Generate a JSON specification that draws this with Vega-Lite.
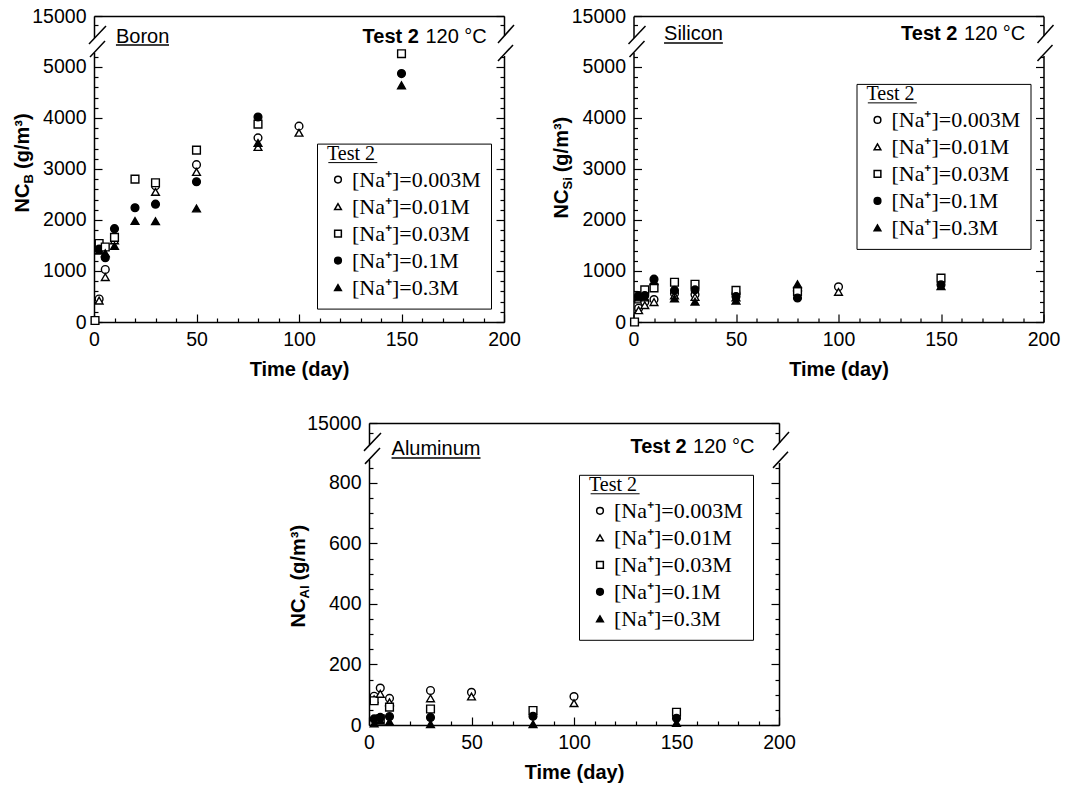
{
  "$schema": "https://vega.github.io/schema/vega-lite/v6.json",
  "padding": {"left": 12, "top": 6, "right": 5, "bottom": 5},
  "background": "white",
  "datasets": {
    "boron": [
      {"t": 0.5, "v": 30, "s": "[Na⁺]=0.03M"},
      {"t": 2.5, "v": 450, "s": "[Na⁺]=0.003M"},
      {"t": 2.5, "v": 420, "s": "[Na⁺]=0.01M"},
      {"t": 2.5, "v": 1540, "s": "[Na⁺]=0.03M"},
      {"t": 2.5, "v": 1430, "s": "[Na⁺]=0.1M"},
      {"t": 2.5, "v": 1400, "s": "[Na⁺]=0.3M"},
      {"t": 5.5, "v": 1030, "s": "[Na⁺]=0.003M"},
      {"t": 5.5, "v": 880, "s": "[Na⁺]=0.01M"},
      {"t": 5.5, "v": 1470, "s": "[Na⁺]=0.03M"},
      {"t": 5.5, "v": 1260, "s": "[Na⁺]=0.1M"},
      {"t": 5.5, "v": 1350, "s": "[Na⁺]=0.3M"},
      {"t": 10, "v": 1650, "s": "[Na⁺]=0.003M"},
      {"t": 10, "v": 1600, "s": "[Na⁺]=0.01M"},
      {"t": 10, "v": 1660, "s": "[Na⁺]=0.03M"},
      {"t": 10, "v": 1830, "s": "[Na⁺]=0.1M"},
      {"t": 10, "v": 1490, "s": "[Na⁺]=0.3M"},
      {"t": 20, "v": 2800, "s": "[Na⁺]=0.03M"},
      {"t": 20, "v": 2240, "s": "[Na⁺]=0.1M"},
      {"t": 20, "v": 1980, "s": "[Na⁺]=0.3M"},
      {"t": 30, "v": 2670, "s": "[Na⁺]=0.003M"},
      {"t": 30, "v": 2550, "s": "[Na⁺]=0.01M"},
      {"t": 30, "v": 2730, "s": "[Na⁺]=0.03M"},
      {"t": 30, "v": 2310, "s": "[Na⁺]=0.1M"},
      {"t": 30, "v": 1975, "s": "[Na⁺]=0.3M"},
      {"t": 50, "v": 3085, "s": "[Na⁺]=0.003M"},
      {"t": 50, "v": 2940, "s": "[Na⁺]=0.01M"},
      {"t": 50, "v": 3370, "s": "[Na⁺]=0.03M"},
      {"t": 50, "v": 2750, "s": "[Na⁺]=0.1M"},
      {"t": 50, "v": 2225, "s": "[Na⁺]=0.3M"},
      {"t": 80, "v": 3610, "s": "[Na⁺]=0.003M"},
      {"t": 80, "v": 3430, "s": "[Na⁺]=0.01M"},
      {"t": 80, "v": 3880, "s": "[Na⁺]=0.03M"},
      {"t": 80, "v": 4020, "s": "[Na⁺]=0.1M"},
      {"t": 80, "v": 3510, "s": "[Na⁺]=0.3M"},
      {"t": 100, "v": 3840, "s": "[Na⁺]=0.003M"},
      {"t": 100, "v": 3710, "s": "[Na⁺]=0.01M"},
      {"t": 150, "v": 5260, "s": "[Na⁺]=0.03M"},
      {"t": 150, "v": 4870, "s": "[Na⁺]=0.1M"},
      {"t": 150, "v": 4640, "s": "[Na⁺]=0.3M"}
    ],
    "silicon": [
      {"t": 0.5, "v": 0, "s": "[Na⁺]=0.03M"},
      {"t": 2.5, "v": 270, "s": "[Na⁺]=0.003M"},
      {"t": 2.5, "v": 230, "s": "[Na⁺]=0.01M"},
      {"t": 2.5, "v": 450, "s": "[Na⁺]=0.03M"},
      {"t": 2.5, "v": 520, "s": "[Na⁺]=0.1M"},
      {"t": 2.5, "v": 480, "s": "[Na⁺]=0.3M"},
      {"t": 5.5, "v": 390, "s": "[Na⁺]=0.003M"},
      {"t": 5.5, "v": 330, "s": "[Na⁺]=0.01M"},
      {"t": 5.5, "v": 630, "s": "[Na⁺]=0.03M"},
      {"t": 5.5, "v": 520, "s": "[Na⁺]=0.1M"},
      {"t": 5.5, "v": 480, "s": "[Na⁺]=0.3M"},
      {"t": 10, "v": 440, "s": "[Na⁺]=0.003M"},
      {"t": 10, "v": 390, "s": "[Na⁺]=0.01M"},
      {"t": 10, "v": 670, "s": "[Na⁺]=0.03M"},
      {"t": 10, "v": 840, "s": "[Na⁺]=0.1M"},
      {"t": 10, "v": 800, "s": "[Na⁺]=0.3M"},
      {"t": 20, "v": 560, "s": "[Na⁺]=0.003M"},
      {"t": 20, "v": 520, "s": "[Na⁺]=0.01M"},
      {"t": 20, "v": 780, "s": "[Na⁺]=0.03M"},
      {"t": 20, "v": 620, "s": "[Na⁺]=0.1M"},
      {"t": 20, "v": 460, "s": "[Na⁺]=0.3M"},
      {"t": 30, "v": 540, "s": "[Na⁺]=0.003M"},
      {"t": 30, "v": 490, "s": "[Na⁺]=0.01M"},
      {"t": 30, "v": 740, "s": "[Na⁺]=0.03M"},
      {"t": 30, "v": 630, "s": "[Na⁺]=0.1M"},
      {"t": 30, "v": 400, "s": "[Na⁺]=0.3M"},
      {"t": 50, "v": 560, "s": "[Na⁺]=0.003M"},
      {"t": 50, "v": 480, "s": "[Na⁺]=0.01M"},
      {"t": 50, "v": 620, "s": "[Na⁺]=0.03M"},
      {"t": 50, "v": 500, "s": "[Na⁺]=0.1M"},
      {"t": 50, "v": 420, "s": "[Na⁺]=0.3M"},
      {"t": 80, "v": 560, "s": "[Na⁺]=0.003M"},
      {"t": 80, "v": 680, "s": "[Na⁺]=0.01M"},
      {"t": 80, "v": 600, "s": "[Na⁺]=0.03M"},
      {"t": 80, "v": 470, "s": "[Na⁺]=0.1M"},
      {"t": 80, "v": 740, "s": "[Na⁺]=0.3M"},
      {"t": 100, "v": 690, "s": "[Na⁺]=0.003M"},
      {"t": 100, "v": 590, "s": "[Na⁺]=0.01M"},
      {"t": 150, "v": 860, "s": "[Na⁺]=0.03M"},
      {"t": 150, "v": 730, "s": "[Na⁺]=0.1M"},
      {"t": 150, "v": 700, "s": "[Na⁺]=0.3M"}
    ],
    "aluminum": [
      {"t": 2.5, "v": 95, "s": "[Na⁺]=0.003M"},
      {"t": 2.5, "v": 85, "s": "[Na⁺]=0.01M"},
      {"t": 2.5, "v": 80, "s": "[Na⁺]=0.03M"},
      {"t": 2.5, "v": 20, "s": "[Na⁺]=0.1M"},
      {"t": 2.5, "v": 5, "s": "[Na⁺]=0.3M"},
      {"t": 5.5, "v": 122, "s": "[Na⁺]=0.003M"},
      {"t": 5.5, "v": 103, "s": "[Na⁺]=0.01M"},
      {"t": 5.5, "v": 20, "s": "[Na⁺]=0.03M"},
      {"t": 5.5, "v": 25, "s": "[Na⁺]=0.1M"},
      {"t": 5.5, "v": 14, "s": "[Na⁺]=0.3M"},
      {"t": 10, "v": 88, "s": "[Na⁺]=0.003M"},
      {"t": 10, "v": 75, "s": "[Na⁺]=0.01M"},
      {"t": 10, "v": 59, "s": "[Na⁺]=0.03M"},
      {"t": 10, "v": 28, "s": "[Na⁺]=0.1M"},
      {"t": 10, "v": 11, "s": "[Na⁺]=0.3M"},
      {"t": 30, "v": 114, "s": "[Na⁺]=0.003M"},
      {"t": 30, "v": 88, "s": "[Na⁺]=0.01M"},
      {"t": 30, "v": 53, "s": "[Na⁺]=0.03M"},
      {"t": 30, "v": 25, "s": "[Na⁺]=0.1M"},
      {"t": 30, "v": 3, "s": "[Na⁺]=0.3M"},
      {"t": 50, "v": 108, "s": "[Na⁺]=0.003M"},
      {"t": 50, "v": 94, "s": "[Na⁺]=0.01M"},
      {"t": 80, "v": 48, "s": "[Na⁺]=0.03M"},
      {"t": 80, "v": 29, "s": "[Na⁺]=0.1M"},
      {"t": 80, "v": 3, "s": "[Na⁺]=0.3M"},
      {"t": 100, "v": 94, "s": "[Na⁺]=0.003M"},
      {"t": 100, "v": 72, "s": "[Na⁺]=0.01M"},
      {"t": 150, "v": 42, "s": "[Na⁺]=0.03M"},
      {"t": 150, "v": 22, "s": "[Na⁺]=0.1M"},
      {"t": 150, "v": 7, "s": "[Na⁺]=0.3M"}
    ]
  },
  "spacing": 33,
  "resolve": {"scale": {"shape": "independent", "fill": "independent", "stroke": "independent"}, "legend": {"shape": "independent", "fill": "independent", "stroke": "independent"}},
  "vconcat": [
    {
      "bounds": "flush",
      "spacing": 129.5,
      "resolve": {"scale": {"shape": "independent", "fill": "independent", "stroke": "independent"}, "legend": {"shape": "independent", "fill": "independent", "stroke": "independent"}},
      "hconcat": [
        {
          "width": 410, "height": 306,
          "resolve": {"axis": {"x": "independent", "y": "independent"}},
          "layer": [
            {
              "data": {"name": "boron"},
              "mark": {"type": "point", "filled": true, "size": 60, "strokeWidth": 1.4, "opacity": 1},
              "encoding": {
                "x": {"field": "t", "type": "quantitative", "scale": {"domain": [0, 200], "nice": false, "zero": false},
                  "axis": {"orient": "bottom", "values": [0, 50, 100, 150, 200], "tickSize": -8, "labelPadding": 16, "labelFlush": false, "title": "Time (day)", "titlePadding": 11}},
                "y": {"field": "v", "type": "quantitative", "scale": {"domain": [0, 5460, 15000], "range": [306, 27.5, 0], "nice": false, "zero": false},
                  "axis": {"orient": "left", "values": [0, 1000, 2000, 3000, 4000, 5000, 15000], "format": "d", "tickSize": -8, "labelPadding": 16, "title": "NC", "titleX": -66, "titleY": 196, "titleAngle": -90, "titleAlign": "left", "titleBaseline": "alphabetic"}},
                "shape": {"field": "s", "type": "nominal", "scale": {"domain": ["[Na⁺]=0.003M", "[Na⁺]=0.01M", "[Na⁺]=0.03M", "[Na⁺]=0.1M", "[Na⁺]=0.3M"], "range": ["circle", "triangle-up", "square", "circle", "triangle-up"]},
                  "legend": {"title": "Test 2", "orient": "none", "legendX": 223, "legendY": 127.6}},
                "fill": {"field": "s", "type": "nominal", "scale": {"domain": ["[Na⁺]=0.003M", "[Na⁺]=0.01M", "[Na⁺]=0.03M", "[Na⁺]=0.1M", "[Na⁺]=0.3M"], "range": ["white", "white", "white", "black", "black"]},
                  "legend": {"title": "Test 2", "orient": "none", "legendX": 223, "legendY": 127.6}},
                "stroke": {"field": "s", "type": "nominal", "scale": {"domain": ["[Na⁺]=0.003M", "[Na⁺]=0.01M", "[Na⁺]=0.03M", "[Na⁺]=0.1M", "[Na⁺]=0.3M"], "range": ["black", "black", "black", "black", "black"]},
                  "legend": {"title": "Test 2", "orient": "none", "legendX": 223, "legendY": 127.6}}
              }
            },
            {
              "data": {"values": [{}]},
              "mark": {"type": "rect", "fill": "white"},
              "encoding": {
                "x": {"datum": -2.93, "type": "quantitative", "axis": {"orient": "bottom", "values": [10, 20, 30, 40, 60, 70, 80, 90, 110, 120, 130, 140, 160, 170, 180, 190], "tickSize": -4, "labels": false, "domain": false, "title": null}},
                "x2": {"datum": 2.93},
                "y": {"datum": 5275, "type": "quantitative", "axis": {"orient": "left", "values": [200, 400, 600, 800, 1200, 1400, 1600, 1800, 2200, 2400, 2600, 2800, 3200, 3400, 3600, 3800, 4200, 4400, 4600, 4800, 5200, 11800], "tickSize": -4, "labels": false, "domain": false, "title": "B", "titleFontSize": 13, "titleX": -62, "titleY": 167, "titleAngle": -90, "titleAlign": "left", "titleBaseline": "alphabetic"}},
                "y2": {"datum": 7368}
              }
            },
            {
              "data": {"values": [{}]},
              "mark": {"type": "rect", "fill": "white"},
              "encoding": {
                "x": {"datum": 197.07, "type": "quantitative", "axis": {"orient": "top", "ticks": false, "labels": false, "domain": true, "title": null}},
                "x2": {"datum": 202.93},
                "y": {"datum": 5216, "type": "quantitative", "axis": {"orient": "right", "values": [0, 1000, 2000, 3000, 4000, 5000, 15000], "tickSize": -8, "labels": false, "domain": true, "title": null}},
                "y2": {"datum": 8062}
              }
            },
            {
              "data": {"values": [{}]},
              "mark": {"type": "rule", "stroke": "black", "strokeWidth": 1.5},
              "encoding": {
                "x": {"datum": -2.44, "type": "quantitative", "axis": null},
                "x2": {"datum": 5.85},
                "y": {"datum": 5451, "type": "quantitative", "axis": {"orient": "right", "values": [200, 400, 600, 800, 1200, 1400, 1600, 1800, 2200, 2400, 2600, 2800, 3200, 3400, 3600, 3800, 4200, 4400, 4600, 4800, 5200, 11800], "tickSize": -4, "labels": false, "domain": false, "title": null}},
                "y2": {"datum": 11531}
              }
            },
            {
              "data": {"values": [{}]},
              "mark": {"type": "rule", "stroke": "black", "strokeWidth": 1.5},
              "encoding": {
                "x": {"datum": -1.95, "type": "quantitative", "axis": null},
                "x2": {"datum": 5.37},
                "y": {"datum": 5196, "type": "quantitative", "axis": {"orient": "left", "ticks": false, "labels": false, "domain": false, "title": "(g/m³)", "titleX": -66, "titleY": 152.5, "titleAngle": -90, "titleAlign": "left", "titleBaseline": "alphabetic"}},
                "y2": {"datum": 6327}
              }
            },
            {
              "data": {"values": [{}]},
              "mark": {"type": "rule", "stroke": "black", "strokeWidth": 1.5},
              "encoding": {
                "x": {"datum": 197.07, "type": "quantitative", "axis": null},
                "x2": {"datum": 204.88},
                "y": {"datum": 5633, "type": "quantitative", "axis": null},
                "y2": {"datum": 11878}
              }
            },
            {
              "data": {"values": [{}]},
              "mark": {"type": "rule", "stroke": "black", "strokeWidth": 1.5},
              "encoding": {
                "x": {"datum": 197.07, "type": "quantitative", "axis": null},
                "x2": {"datum": 204.39},
                "y": {"datum": 5118, "type": "quantitative", "axis": null},
                "y2": {"datum": 5431}
              }
            },
            {
              "data": {"values": [{}]},
              "mark": {"type": "text", "text": "Boron", "font": "Liberation Sans", "fontSize": 20, "align": "left", "baseline": "alphabetic", "fill": "black"},
              "encoding": {"x": {"datum": 10.7, "type": "quantitative", "axis": null}, "y": {"datum": 5633, "type": "quantitative", "axis": null}}
            },
            {
              "data": {"values": [{}]},
              "mark": {"type": "rule", "stroke": "black", "strokeWidth": 1.5},
              "encoding": {"x": {"datum": 10.7, "type": "quantitative", "axis": null}, "x2": {"datum": 36.6}, "y": {"datum": 5431, "type": "quantitative", "axis": null}}
            },
            {
              "data": {"values": [{}]},
              "mark": {"type": "text", "text": "Test 2", "font": "Liberation Sans", "fontSize": 20, "fontWeight": "bold", "align": "right", "baseline": "alphabetic", "fill": "black"},
              "encoding": {"x": {"datum": 158.5, "type": "quantitative", "axis": null}, "y": {"datum": 5633, "type": "quantitative", "axis": null}}
            },
            {
              "data": {"values": [{}]},
              "mark": {"type": "text", "text": "120 °C", "font": "Liberation Sans", "fontSize": 20, "align": "right", "baseline": "alphabetic", "fill": "black"},
              "encoding": {"x": {"datum": 191.6, "type": "quantitative", "axis": null}, "y": {"datum": 5633, "type": "quantitative", "axis": null}}
            },
            {
              "data": {"values": [{}]},
              "mark": {"type": "rule", "stroke": "black", "strokeWidth": 1},
              "encoding": {"x": {"datum": 114.3, "type": "quantitative", "axis": null}, "x2": {"datum": 138.2}, "y": {"datum": 3125, "type": "quantitative", "axis": null}}
            }
          ]
        },
        {
          "width": 410, "height": 306,
          "resolve": {"axis": {"x": "independent", "y": "independent"}},
          "layer": [
            {
              "data": {"name": "silicon"},
              "mark": {"type": "point", "filled": true, "size": 60, "strokeWidth": 1.4, "opacity": 1},
              "encoding": {
                "x": {"field": "t", "type": "quantitative", "scale": {"domain": [0, 200], "nice": false, "zero": false},
                  "axis": {"orient": "bottom", "values": [0, 50, 100, 150, 200], "tickSize": -8, "labelPadding": 16, "labelFlush": false, "title": "Time (day)", "titlePadding": 11}},
                "y": {"field": "v", "type": "quantitative", "scale": {"domain": [0, 5460, 15000], "range": [306, 27.5, 0], "nice": false, "zero": false},
                  "axis": {"orient": "left", "values": [0, 1000, 2000, 3000, 4000, 5000, 15000], "format": "d", "tickSize": -8, "labelPadding": 16, "title": "NC", "titleX": -66, "titleY": 202, "titleAngle": -90, "titleAlign": "left", "titleBaseline": "alphabetic"}},
                "shape": {"field": "s", "type": "nominal", "scale": {"domain": ["[Na⁺]=0.003M", "[Na⁺]=0.01M", "[Na⁺]=0.03M", "[Na⁺]=0.1M", "[Na⁺]=0.3M"], "range": ["circle", "triangle-up", "square", "circle", "triangle-up"]},
                  "legend": {"title": "Test 2", "orient": "none", "legendX": 223, "legendY": 67.9}},
                "fill": {"field": "s", "type": "nominal", "scale": {"domain": ["[Na⁺]=0.003M", "[Na⁺]=0.01M", "[Na⁺]=0.03M", "[Na⁺]=0.1M", "[Na⁺]=0.3M"], "range": ["white", "white", "white", "black", "black"]},
                  "legend": {"title": "Test 2", "orient": "none", "legendX": 223, "legendY": 67.9}},
                "stroke": {"field": "s", "type": "nominal", "scale": {"domain": ["[Na⁺]=0.003M", "[Na⁺]=0.01M", "[Na⁺]=0.03M", "[Na⁺]=0.1M", "[Na⁺]=0.3M"], "range": ["black", "black", "black", "black", "black"]},
                  "legend": {"title": "Test 2", "orient": "none", "legendX": 223, "legendY": 67.9}}
              }
            },
            {
              "data": {"values": [{}]},
              "mark": {"type": "rect", "fill": "white"},
              "encoding": {
                "x": {"datum": -2.93, "type": "quantitative", "axis": {"orient": "bottom", "values": [10, 20, 30, 40, 60, 70, 80, 90, 110, 120, 130, 140, 160, 170, 180, 190], "tickSize": -4, "labels": false, "domain": false, "title": null}},
                "x2": {"datum": 2.93},
                "y": {"datum": 5275, "type": "quantitative", "axis": {"orient": "left", "values": [200, 400, 600, 800, 1200, 1400, 1600, 1800, 2200, 2400, 2600, 2800, 3200, 3400, 3600, 3800, 4200, 4400, 4600, 4800, 5200, 11800], "tickSize": -4, "labels": false, "domain": false, "title": "Si", "titleFontSize": 13, "titleX": -62, "titleY": 173, "titleAngle": -90, "titleAlign": "left", "titleBaseline": "alphabetic"}},
                "y2": {"datum": 7368}
              }
            },
            {
              "data": {"values": [{}]},
              "mark": {"type": "rect", "fill": "white"},
              "encoding": {
                "x": {"datum": 197.07, "type": "quantitative", "axis": {"orient": "top", "ticks": false, "labels": false, "domain": true, "title": null}},
                "x2": {"datum": 202.93},
                "y": {"datum": 5216, "type": "quantitative", "axis": {"orient": "right", "values": [0, 1000, 2000, 3000, 4000, 5000, 15000], "tickSize": -8, "labels": false, "domain": true, "title": null}},
                "y2": {"datum": 8062}
              }
            },
            {
              "data": {"values": [{}]},
              "mark": {"type": "rule", "stroke": "black", "strokeWidth": 1.5},
              "encoding": {
                "x": {"datum": -2.44, "type": "quantitative", "axis": null},
                "x2": {"datum": 5.85},
                "y": {"datum": 5451, "type": "quantitative", "axis": {"orient": "right", "values": [200, 400, 600, 800, 1200, 1400, 1600, 1800, 2200, 2400, 2600, 2800, 3200, 3400, 3600, 3800, 4200, 4400, 4600, 4800, 5200, 11800], "tickSize": -4, "labels": false, "domain": false, "title": null}},
                "y2": {"datum": 11531}
              }
            },
            {
              "data": {"values": [{}]},
              "mark": {"type": "rule", "stroke": "black", "strokeWidth": 1.5},
              "encoding": {
                "x": {"datum": -1.95, "type": "quantitative", "axis": null},
                "x2": {"datum": 5.37},
                "y": {"datum": 5196, "type": "quantitative", "axis": {"orient": "left", "ticks": false, "labels": false, "domain": false, "title": "(g/m³)", "titleX": -66, "titleY": 155.8, "titleAngle": -90, "titleAlign": "left", "titleBaseline": "alphabetic"}},
                "y2": {"datum": 6327}
              }
            },
            {
              "data": {"values": [{}]},
              "mark": {"type": "rule", "stroke": "black", "strokeWidth": 1.5},
              "encoding": {
                "x": {"datum": 197.07, "type": "quantitative", "axis": null},
                "x2": {"datum": 204.88},
                "y": {"datum": 5633, "type": "quantitative", "axis": null},
                "y2": {"datum": 11878}
              }
            },
            {
              "data": {"values": [{}]},
              "mark": {"type": "rule", "stroke": "black", "strokeWidth": 1.5},
              "encoding": {
                "x": {"datum": 197.07, "type": "quantitative", "axis": null},
                "x2": {"datum": 204.39},
                "y": {"datum": 5118, "type": "quantitative", "axis": null},
                "y2": {"datum": 5431}
              }
            },
            {
              "data": {"values": [{}]},
              "mark": {"type": "text", "text": "Silicon", "font": "Liberation Sans", "fontSize": 20, "align": "left", "baseline": "alphabetic", "fill": "black"},
              "encoding": {"x": {"datum": 14.9, "type": "quantitative", "axis": null}, "y": {"datum": 6501, "type": "quantitative", "axis": null}}
            },
            {
              "data": {"values": [{}]},
              "mark": {"type": "rule", "stroke": "black", "strokeWidth": 1.5},
              "encoding": {"x": {"datum": 14.9, "type": "quantitative", "axis": null}, "x2": {"datum": 43.6}, "y": {"datum": 5633, "type": "quantitative", "axis": null}}
            },
            {
              "data": {"values": [{}]},
              "mark": {"type": "text", "text": "Test 2", "font": "Liberation Sans", "fontSize": 20, "fontWeight": "bold", "align": "right", "baseline": "alphabetic", "fill": "black"},
              "encoding": {"x": {"datum": 158, "type": "quantitative", "axis": null}, "y": {"datum": 6501, "type": "quantitative", "axis": null}}
            },
            {
              "data": {"values": [{}]},
              "mark": {"type": "text", "text": "120 °C", "font": "Liberation Sans", "fontSize": 20, "align": "right", "baseline": "alphabetic", "fill": "black"},
              "encoding": {"x": {"datum": 191.1, "type": "quantitative", "axis": null}, "y": {"datum": 6501, "type": "quantitative", "axis": null}}
            },
            {
              "data": {"values": [{}]},
              "mark": {"type": "rule", "stroke": "black", "strokeWidth": 1},
              "encoding": {"x": {"datum": 114.3, "type": "quantitative", "axis": null}, "x2": {"datum": 138.2}, "y": {"datum": 4296, "type": "quantitative", "axis": null}}
            }
          ]
        }
      ]
    },
    {
      "bounds": "flush",
      "spacing": 0,
      "resolve": {"scale": {"shape": "independent", "fill": "independent", "stroke": "independent"}, "legend": {"shape": "independent", "fill": "independent", "stroke": "independent"}},
      "hconcat": [
        {
          "width": 275, "height": 10,
          "view": {"stroke": null},
          "data": {"values": [{}]},
          "mark": {"type": "point", "opacity": 0}
        },
        {
          "width": 410, "height": 302,
          "resolve": {"axis": {"x": "independent", "y": "independent"}},
          "layer": [
            {
              "data": {"name": "aluminum"},
              "mark": {"type": "point", "filled": true, "size": 60, "strokeWidth": 1.4, "opacity": 1},
              "encoding": {
                "x": {"field": "t", "type": "quantitative", "scale": {"domain": [0, 200], "nice": false, "zero": false},
                  "axis": {"orient": "bottom", "values": [0, 50, 100, 150, 200], "tickSize": -8, "labelPadding": 16, "labelFlush": false, "title": "Time (day)", "titlePadding": 11}},
                "y": {"field": "v", "type": "quantitative", "scale": {"domain": [0, 907, 15000], "range": [302, 27.5, 0], "nice": false, "zero": false},
                  "axis": {"orient": "left", "values": [0, 200, 400, 600, 800, 15000], "format": "d", "tickSize": -8, "labelPadding": 16, "title": "NC", "titleX": -65, "titleY": 204, "titleAngle": -90, "titleAlign": "left", "titleBaseline": "alphabetic"}},
                "shape": {"field": "s", "type": "nominal", "scale": {"domain": ["[Na⁺]=0.003M", "[Na⁺]=0.01M", "[Na⁺]=0.03M", "[Na⁺]=0.1M", "[Na⁺]=0.3M"], "range": ["circle", "triangle-up", "square", "circle", "triangle-up"]},
                  "legend": {"title": "Test 2", "orient": "none", "legendX": 210, "legendY": 51.8}},
                "fill": {"field": "s", "type": "nominal", "scale": {"domain": ["[Na⁺]=0.003M", "[Na⁺]=0.01M", "[Na⁺]=0.03M", "[Na⁺]=0.1M", "[Na⁺]=0.3M"], "range": ["white", "white", "white", "black", "black"]},
                  "legend": {"title": "Test 2", "orient": "none", "legendX": 210, "legendY": 51.8}},
                "stroke": {"field": "s", "type": "nominal", "scale": {"domain": ["[Na⁺]=0.003M", "[Na⁺]=0.01M", "[Na⁺]=0.03M", "[Na⁺]=0.1M", "[Na⁺]=0.3M"], "range": ["black", "black", "black", "black", "black"]},
                  "legend": {"title": "Test 2", "orient": "none", "legendX": 210, "legendY": 51.8}}
              }
            },
            {
              "data": {"values": [{}]},
              "mark": {"type": "rect", "fill": "white"},
              "encoding": {
                "x": {"datum": -2.93, "type": "quantitative", "axis": {"orient": "bottom", "values": [10, 20, 30, 40, 60, 70, 80, 90, 110, 120, 130, 140, 160, 170, 180, 190], "tickSize": -4, "labels": false, "domain": false, "title": null}},
                "x2": {"datum": 2.93},
                "y": {"datum": 876, "type": "quantitative", "axis": {"orient": "left", "values": [50, 100, 150, 250, 300, 350, 450, 500, 550, 650, 700, 750, 850, 10000], "tickSize": -4, "labels": false, "domain": false, "title": "Al", "titleFontSize": 13, "titleX": -61, "titleY": 175, "titleAngle": -90, "titleAlign": "left", "titleBaseline": "alphabetic"}},
                "y2": {"datum": 3726}
              }
            },
            {
              "data": {"values": [{}]},
              "mark": {"type": "rect", "fill": "white"},
              "encoding": {
                "x": {"datum": 197.07, "type": "quantitative", "axis": {"orient": "top", "ticks": false, "labels": false, "domain": true, "title": null}},
                "x2": {"datum": 202.93},
                "y": {"datum": 866, "type": "quantitative", "axis": {"orient": "right", "values": [0, 200, 400, 600, 800, 15000], "tickSize": -8, "labels": false, "domain": true, "title": null}},
                "y2": {"datum": 4751}
              }
            },
            {
              "data": {"values": [{}]},
              "mark": {"type": "rule", "stroke": "black", "strokeWidth": 1.5},
              "encoding": {
                "x": {"datum": -2.44, "type": "quantitative", "axis": null},
                "x2": {"datum": 5.85},
                "y": {"datum": 905.8, "type": "quantitative", "axis": {"orient": "right", "values": [50, 100, 150, 250, 300, 350, 450, 500, 550, 650, 700, 750, 850, 10000], "tickSize": -4, "labels": false, "domain": false, "title": null}},
                "y2": {"datum": 9876}
              }
            },
            {
              "data": {"values": [{}]},
              "mark": {"type": "rule", "stroke": "black", "strokeWidth": 1.5},
              "encoding": {
                "x": {"datum": -1.95, "type": "quantitative", "axis": null},
                "x2": {"datum": 5.37},
                "y": {"datum": 862.8, "type": "quantitative", "axis": {"orient": "left", "ticks": false, "labels": false, "domain": false, "title": "(g/m³)", "titleX": -65, "titleY": 157, "titleAngle": -90, "titleAlign": "left", "titleBaseline": "alphabetic"}},
                "y2": {"datum": 2188}
              }
            },
            {
              "data": {"values": [{}]},
              "mark": {"type": "rule", "stroke": "black", "strokeWidth": 1.5},
              "encoding": {
                "x": {"datum": 197.07, "type": "quantitative", "axis": null},
                "x2": {"datum": 204.88},
                "y": {"datum": 1163, "type": "quantitative", "axis": null},
                "y2": {"datum": 10388}
              }
            },
            {
              "data": {"values": [{}]},
              "mark": {"type": "rule", "stroke": "black", "strokeWidth": 1.5},
              "encoding": {
                "x": {"datum": 197.07, "type": "quantitative", "axis": null},
                "x2": {"datum": 204.39},
                "y": {"datum": 849.6, "type": "quantitative", "axis": null},
                "y2": {"datum": 902.5}
              }
            },
            {
              "data": {"values": [{}]},
              "mark": {"type": "text", "text": "Aluminum", "font": "Liberation Sans", "fontSize": 20, "align": "left", "baseline": "alphabetic", "fill": "black"},
              "encoding": {"x": {"datum": 11, "type": "quantitative", "axis": null}, "y": {"datum": 892.6, "type": "quantitative", "axis": null}}
            },
            {
              "data": {"values": [{}]},
              "mark": {"type": "rule", "stroke": "black", "strokeWidth": 1.5},
              "encoding": {"x": {"datum": 11, "type": "quantitative", "axis": null}, "x2": {"datum": 54.4}, "y": {"datum": 882.6, "type": "quantitative", "axis": null}}
            },
            {
              "data": {"values": [{}]},
              "mark": {"type": "text", "text": "Test 2", "font": "Liberation Sans", "fontSize": 20, "fontWeight": "bold", "align": "right", "baseline": "alphabetic", "fill": "black"},
              "encoding": {"x": {"datum": 155, "type": "quantitative", "axis": null}, "y": {"datum": 899.2, "type": "quantitative", "axis": null}}
            },
            {
              "data": {"values": [{}]},
              "mark": {"type": "text", "text": "120 °C", "font": "Liberation Sans", "fontSize": 20, "align": "right", "baseline": "alphabetic", "fill": "black"},
              "encoding": {"x": {"datum": 188, "type": "quantitative", "axis": null}, "y": {"datum": 899.2, "type": "quantitative", "axis": null}}
            },
            {
              "data": {"values": [{}]},
              "mark": {"type": "rule", "stroke": "black", "strokeWidth": 1},
              "encoding": {"x": {"datum": 108.1, "type": "quantitative", "axis": null}, "x2": {"datum": 132}, "y": {"datum": 764, "type": "quantitative", "axis": null}}
            }
          ]
        }
      ]
    }
  ],
  "config": {
    "view": {"stroke": null},
    "axis": {
      "grid": false,
      "labelFont": "Liberation Sans", "labelFontSize": 19.5, "labelColor": "black",
      "titleFont": "Liberation Sans", "titleFontSize": 20, "titleFontWeight": "bold", "titleColor": "black",
      "domainColor": "black", "domainWidth": 1.5, "tickColor": "black", "tickWidth": 1.2
    },
    "legend": {
      "titleFont": "Liberation Serif", "titleFontSize": 20, "titleFontWeight": "normal", "titleColor": "black",
      "titleBaseline": "middle",
      "labelFont": "Liberation Serif", "labelFontSize": 22, "labelColor": "black",
      "strokeColor": "black", "strokeWidth": 1, "padding": 10, "rowPadding": 5, "titlePadding": -5,
      "symbolSize": 45, "symbolStrokeWidth": 1.5, "labelOffset": 3, "symbolOffset": 0,
      "direction": "vertical", "titleLimit": 0, "labelLimit": 0
    }
  }
}
